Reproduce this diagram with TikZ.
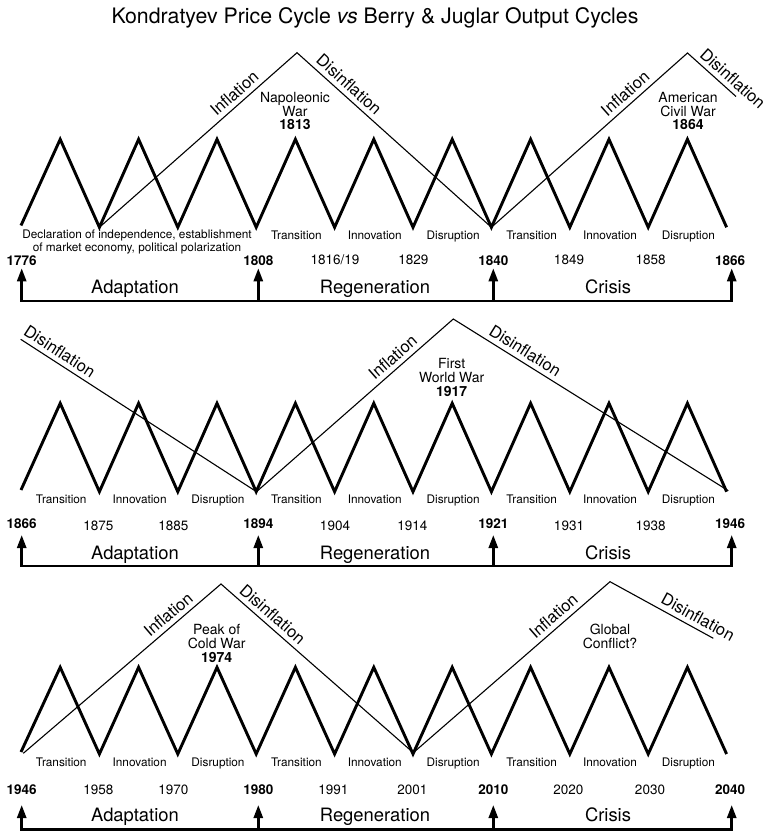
\documentclass[tikz,border=0pt]{standalone}
\usepackage{fontspec}
\setmainfont{TeX Gyre Heros}
\usetikzlibrary{arrows.meta}

\begin{document}
\begin{tikzpicture}[x=1pt,y=-1pt,
  every node/.style={inner sep=0pt,anchor=base},
  zig/.style={line width=2.9pt,line join=miter,miter limit=10},
  kline/.style={line width=1.1pt},
  axisline/.style={line width=2.6pt,line cap=rect},
  uparr/.style={line width=2.6pt,-{Triangle[length=13pt,width=9pt]}},
  ttl/.style={font=\fontsize{21.3}{23}\selectfont},
  phase/.style={font=\fontsize{11.8}{13}\selectfont},
  yr/.style={font=\fontsize{13.5}{15}\selectfont},
  yrb/.style={font=\fontsize{13.5}{15}\selectfont\bfseries},
  era/.style={font=\fontsize{18.4}{20}\selectfont},
  event/.style={font=\fontsize{14}{13.6}\selectfont,align=center,anchor=center},
  infl/.style={font=\fontsize{16.5}{18}\selectfont,sloped,anchor=south,inner sep=4.5pt}]
\useasboundingbox (0,0) rectangle (770,834);
\node[ttl] (title) at (375,23.5) {Kondratyev Price Cycle \textit{vs} Berry \& Juglar Output Cycles};

% 1776--1866
\draw[zig] (21,225.5) \foreach \k in {0,...,8}{ -- ({60.2+78.4*\k},139.3) -- ({99.4+78.4*\k},227.3)};
\coordinate (a0) at (99.4,227.3);
\coordinate (a1) at (297,52.7);
\coordinate (a2) at (491.4,227.3);
\coordinate (a3) at (687.5,53);
\coordinate (a4) at (736,96.5);
\draw[kline] (a0) -- node[infl,pos=.72] (infA1) {Inflation} (a1)
  -- node[infl,pos=.23] (disA1) {Disinflation} (a2)
  -- node[infl,pos=.72] (infA2) {Inflation} (a3)
  -- node[infl,pos=.78] (disA2) {Disinflation} (a4);
\node[event] (napoleon) at (295,111) {Napoleonic\\War\\\textbf{1813}};
\node[event] (civilwar) at (688,111) {American\\Civil War\\\textbf{1864}};
\node[phase,align=center,anchor=center] (decl) at (137,241.5) {Declaration of independence, establishment\\of market economy, political polarization};
\node[phase] (phA4) at (296.4,239.3) {Transition};
\node[phase] (phA5) at (374.8,239.3) {Innovation};
\node[phase] (phA6) at (453.2,239.3) {Disruption};
\node[phase] (phA7) at (531.6,239.3) {Transition};
\node[phase] (phA8) at (610,239.3) {Innovation};
\node[phase] (phA9) at (688.4,239.3) {Disruption};
\node[yrb] (y1776) at (21.7,265.5) {1776};
\node[yrb] (y1808) at (258.3,265.5) {1808};
\node[yr] (y1816) at (335,264.5) {1816/19};
\node[yr] (y1829) at (413.3,264.5) {1829};
\node[yrb] (y1840) at (493.3,265.5) {1840};
\node[yr] (y1849) at (569,264.5) {1849};
\node[yr] (y1858) at (650.7,264.5) {1858};
\node[yrb] (y1866a) at (730,265.5) {1866};
\node[era] (adaA) at (135,293.3) {Adaptation};
\node[era] (regA) at (375,293.3) {Regeneration};
\node[era] (criA) at (608,293.3) {Crisis};
\coordinate (bA1) at (21.7,301);   \coordinate (tA1) at (21.7,268.3);
\coordinate (bA2) at (258.3,301);  \coordinate (tA2) at (258.3,268.3);
\coordinate (bA3) at (493.3,301);  \coordinate (tA3) at (493.3,268.3);
\coordinate (bA4) at (731.7,301);  \coordinate (tA4) at (731.7,268.3);
\draw[axisline] (bA1) -- (bA4);
\draw[uparr] (bA1) -- (tA1);
\draw[uparr] (bA2) -- (tA2);
\draw[uparr] (bA3) -- (tA3);
\draw[uparr] (bA4) -- (tA4);

% 1866--1946
\draw[zig] (21,490) \foreach \k in {0,...,8}{ -- ({60.2+78.4*\k},403.3) -- ({99.4+78.4*\k},491.7)};
\coordinate (b0) at (20.7,339.3);
\coordinate (b1) at (256.5,491.7);
\coordinate (b2) at (453.3,319);
\coordinate (b3) at (728.3,490.7);
\draw[kline] (b0) -- node[infl,pos=.14] (disB1) {Disinflation} (b1)
  -- node[infl,pos=.73] (infB1) {Inflation} (b2)
  -- node[infl,pos=.24] (disB2) {Disinflation} (b3);
\node[event] (wwone) at (451.7,377.5) {First\\World War\\\textbf{1917}};
\node[phase] (phB1) at (61.2,503.3) {Transition};
\node[phase] (phB2) at (139.6,503.3) {Innovation};
\node[phase] (phB3) at (218,503.3) {Disruption};
\node[phase] (phB4) at (296.4,503.3) {Transition};
\node[phase] (phB5) at (374.8,503.3) {Innovation};
\node[phase] (phB6) at (453.2,503.3) {Disruption};
\node[phase] (phB7) at (531.6,503.3) {Transition};
\node[phase] (phB8) at (610,503.3) {Innovation};
\node[phase] (phB9) at (688.4,503.3) {Disruption};
\node[yrb] (y1866b) at (21.7,528) {1866};
\node[yr] (y1875) at (98.3,530) {1875};
\node[yr] (y1885) at (173.3,530) {1885};
\node[yrb] (y1894) at (258.3,528) {1894};
\node[yr] (y1904) at (335,530) {1904};
\node[yr] (y1914) at (412.3,530) {1914};
\node[yrb] (y1921) at (493.3,528) {1921};
\node[yr] (y1931) at (569,530) {1931};
\node[yr] (y1938) at (650.7,530) {1938};
\node[yrb] (y1946b) at (730,528) {1946};
\node[era] (adaB) at (135,559) {Adaptation};
\node[era] (regB) at (375,559) {Regeneration};
\node[era] (criB) at (608,559) {Crisis};
\coordinate (bB1) at (21.7,566);   \coordinate (tB1) at (21.7,535);
\coordinate (bB2) at (258.3,566);  \coordinate (tB2) at (258.3,535);
\coordinate (bB3) at (493.3,566);  \coordinate (tB3) at (493.3,535);
\coordinate (bB4) at (731.7,566);  \coordinate (tB4) at (731.7,535);
\draw[axisline] (bB1) -- (bB4);
\draw[uparr] (bB1) -- (tB1);
\draw[uparr] (bB2) -- (tB2);
\draw[uparr] (bB3) -- (tB3);
\draw[uparr] (bB4) -- (tB4);

% 1946--2040
\draw[zig] (21,752) \foreach \k in {0,...,8}{ -- ({60.2+78.4*\k},667.3) -- ({99.4+78.4*\k},754)};
\coordinate (c0) at (23.3,753.3);
\coordinate (c1) at (221,584);
\coordinate (c2) at (413.3,752.7);
\coordinate (c3) at (610,581.7);
\coordinate (c4) at (713.3,638.3);
\draw[kline] (c0) -- node[infl,pos=.77] (infC1) {Inflation} (c1)
  -- node[infl,pos=.23] (disC1) {Disinflation} (c2)
  -- node[infl,pos=.75] (infC2) {Inflation} (c3)
  -- node[infl,pos=.8] (disC2) {Disinflation} (c4);
\node[event] (coldwar) at (216.7,643.5) {Peak of\\Cold War\\\textbf{1974}};
\node[event] (conflict) at (610,636.3) {Global\\Conflict?};
\node[phase] (phC1) at (61.2,766) {Transition};
\node[phase] (phC2) at (139.6,766) {Innovation};
\node[phase] (phC3) at (218,766) {Disruption};
\node[phase] (phC4) at (296.4,766) {Transition};
\node[phase] (phC5) at (374.8,766) {Innovation};
\node[phase] (phC6) at (453.2,766) {Disruption};
\node[phase] (phC7) at (531.6,766) {Transition};
\node[phase] (phC8) at (610,766) {Innovation};
\node[phase] (phC9) at (688.4,766) {Disruption};
\node[yrb] (y1946c) at (21.7,794.3) {1946};
\node[yr] (y1958) at (98.3,794.3) {1958};
\node[yr] (y1970) at (173.3,794.3) {1970};
\node[yrb] (y1980) at (258.3,794.3) {1980};
\node[yr] (y1991) at (333.3,794.3) {1991};
\node[yr] (y2001) at (412.3,794.3) {2001};
\node[yrb] (y2010) at (493.3,794.3) {2010};
\node[yr] (y2020) at (568.3,794.3) {2020};
\node[yr] (y2030) at (650,794.3) {2030};
\node[yrb] (y2040) at (730,794.3) {2040};
\node[era] (adaC) at (135,821.7) {Adaptation};
\node[era] (regC) at (375,821.7) {Regeneration};
\node[era] (criC) at (608,821.7) {Crisis};
\coordinate (bC1) at (21.7,829.3);   \coordinate (tC1) at (21.7,805);
\coordinate (bC2) at (258.3,829.3);  \coordinate (tC2) at (258.3,805);
\coordinate (bC3) at (493.3,829.3);  \coordinate (tC3) at (493.3,805);
\coordinate (bC4) at (731.7,829.3);  \coordinate (tC4) at (731.7,805);
\draw[axisline] (bC1) -- (bC4);
\draw[uparr] (bC1) -- (tC1);
\draw[uparr] (bC2) -- (tC2);
\draw[uparr] (bC3) -- (tC3);
\draw[uparr] (bC4) -- (tC4);
\end{tikzpicture}
\end{document}
